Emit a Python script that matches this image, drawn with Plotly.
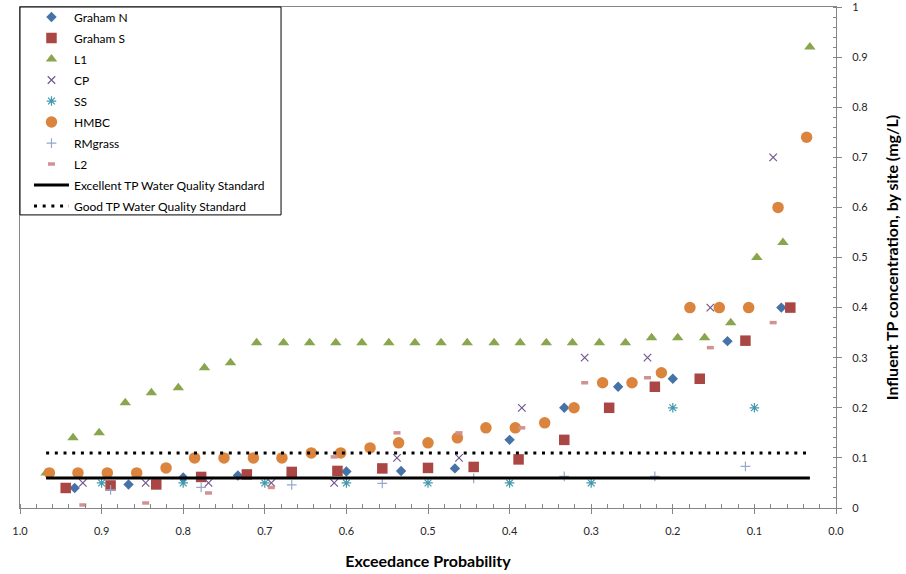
import plotly.graph_objects as go

FONT = "Lato, Carlito, Calibri, sans-serif"

# ---- data: exceedance probability (x) and TP concentration (y) ----
gn_p = [0.933, 0.867, 0.800, 0.733, 0.667, 0.600, 0.533, 0.467, 0.400, 0.333, 0.267, 0.200, 0.133, 0.067]
gn_v = [0.040, 0.047, 0.061, 0.065, 0.068, 0.073, 0.074, 0.079, 0.136, 0.200, 0.242, 0.258, 0.333, 0.400]

gs_p = [0.944, 0.889, 0.833, 0.778, 0.722, 0.667, 0.611, 0.556, 0.500, 0.444, 0.389, 0.333, 0.278, 0.222, 0.167, 0.111, 0.056]
gs_v = [0.040, 0.045, 0.047, 0.062, 0.067, 0.072, 0.074, 0.079, 0.080, 0.082, 0.097, 0.136, 0.200, 0.242, 0.258, 0.334, 0.400]

l1_p = [0.968, 0.935, 0.903, 0.871, 0.839, 0.806, 0.774, 0.742, 0.710, 0.677, 0.645, 0.613, 0.581, 0.548, 0.516,
        0.484, 0.452, 0.419, 0.387, 0.355, 0.323, 0.290, 0.258, 0.226, 0.194, 0.161, 0.129, 0.097, 0.065, 0.032]
l1_v = [0.07, 0.14, 0.15, 0.21, 0.23, 0.24, 0.28, 0.29, 0.33, 0.33, 0.33, 0.33, 0.33, 0.33, 0.33,
        0.33, 0.33, 0.33, 0.33, 0.33, 0.33, 0.33, 0.33, 0.34, 0.34, 0.34, 0.37, 0.50, 0.53, 0.92]

cp_p = [0.923, 0.846, 0.769, 0.692, 0.615, 0.538, 0.462, 0.385, 0.308, 0.231, 0.154, 0.077]
cp_v = [0.05, 0.05, 0.05, 0.05, 0.05, 0.10, 0.10, 0.20, 0.30, 0.30, 0.40, 0.70]

ss_p = [0.9, 0.8, 0.7, 0.6, 0.5, 0.4, 0.3, 0.2, 0.1]
ss_v = [0.05, 0.05, 0.05, 0.05, 0.05, 0.05, 0.05, 0.20, 0.20]

hm_p = [0.964, 0.929, 0.893, 0.857, 0.821, 0.786, 0.750, 0.714, 0.679, 0.643, 0.607, 0.571, 0.536, 0.500,
        0.464, 0.429, 0.393, 0.357, 0.321, 0.286, 0.250, 0.214, 0.179, 0.143, 0.107, 0.071, 0.036]
hm_v = [0.07, 0.07, 0.07, 0.07, 0.08, 0.10, 0.10, 0.10, 0.10, 0.11, 0.11, 0.12, 0.13, 0.13,
        0.14, 0.16, 0.16, 0.17, 0.20, 0.25, 0.25, 0.27, 0.40, 0.40, 0.40, 0.60, 0.74]

rm_p = [0.889, 0.778, 0.667, 0.556, 0.444, 0.333, 0.222, 0.111]
rm_v = [0.036, 0.041, 0.046, 0.049, 0.059, 0.063, 0.063, 0.083]

l2_p = [0.923, 0.846, 0.769, 0.692, 0.615, 0.538, 0.462, 0.385, 0.308, 0.231, 0.154, 0.077]
l2_v = [0.006, 0.010, 0.030, 0.041, 0.102, 0.150, 0.150, 0.160, 0.250, 0.260, 0.320, 0.370]

std_p = [0.968, 0.032]
excellent_v = [0.06, 0.06]
good_v = [0.11, 0.11]

x_ticks = [1.0, 0.9, 0.8, 0.7, 0.6, 0.5, 0.4, 0.3, 0.2, 0.1, 0.0]
y_ticks = [0, 0.1, 0.2, 0.3, 0.4, 0.5, 0.6, 0.7, 0.8, 0.9, 1]

fig = go.Figure()


def add_markers(name, xs, ys, symbol, color, size, line_only=False, lw=1.5):
    if line_only:
        marker = dict(symbol=symbol, size=size, color=color, line=dict(color=color, width=lw))
    else:
        marker = dict(symbol=symbol, size=size, color=color, line=dict(width=0))
    fig.add_trace(go.Scatter(x=xs, y=ys, mode="markers", name=name, legendgroup=name,
                             marker=marker))


add_markers("Graham N", gn_p, gn_v, "diamond", "#4572A7", 8)
add_markers("Graham S", gs_p, gs_v, "square", "#AA4643", 10.5)
add_markers("L1", l1_p, l1_v, "triangle-up", "#89A54E", 10)
add_markers("CP", cp_p, cp_v, "x-thin", "#71588F", 7.5, line_only=True, lw=1.2)
add_markers("SS", ss_p, ss_v, "asterisk", "#4198AF", 8, line_only=True, lw=1.2)
add_markers("HMBC", hm_p, hm_v, "circle", "#DB843D", 11.5)
add_markers("RMgrass", rm_p, rm_v, "cross-thin", "#93A9CF", 7, line_only=True, lw=1.2)
add_markers("L2", l2_p, l2_v, "line-ew", "#D19392", 5, line_only=True, lw=3.5)

fig.add_trace(go.Scatter(x=std_p, y=excellent_v, mode="lines", name="Excellent TP Water Quality Standard",
                         legendgroup="exc", line=dict(color="black", width=3)))
fig.add_trace(go.Scatter(x=std_p, y=good_v, mode="lines", name="Good TP Water Quality Standard",
                         legendgroup="good", line=dict(color="black", width=3, dash="3px,5.7px")))

AX = "#868686"
fig.update_layout(
    width=906, height=574,
    margin=dict(l=20, r=70, t=7, b=66, autoexpand=False),
    paper_bgcolor="white", plot_bgcolor="white",
    font=dict(family=FONT, size=12, color="black"),
    showlegend=True,
    legend=dict(x=0.011, y=0.9956, xanchor="left", yanchor="top", yref="container",
                bgcolor="rgba(0,0,0,0)", borderwidth=0,
                font=dict(family=FONT, size=12, color="black"),
                itemwidth=35, tracegroupgap=2, traceorder="grouped"),
    xaxis=dict(range=[1.0, 0.0], tickvals=x_ticks, tickformat=".1f",
               showgrid=False, zeroline=False, showline=True, linecolor=AX, linewidth=1, mirror=True,
               ticks="outside", ticklen=5, tickcolor=AX, ticklabelstandoff=8,
               minor=dict(dtick=0.02, tick0=0, ticks="inside", ticklen=4, tickcolor=AX),
               tickfont=dict(family=FONT, size=11, color="#262626"),
               title=dict(text="<b>Exceedance Probability</b>", font=dict(family=FONT, size=16, color="black"),
                          standoff=19)),
    yaxis=dict(range=[0, 1], tickvals=y_ticks, side="right", ticklabeloverflow="allow",
               showgrid=False, zeroline=False, showline=True, linecolor=AX, linewidth=1, mirror=True,
               ticks="outside", ticklen=5, tickcolor=AX, ticklabelstandoff=8,
               minor=dict(dtick=0.02, tick0=0, ticks="inside", ticklen=3, tickcolor=AX),
               tickfont=dict(family=FONT, size=11, color="#262626"),
               title=dict(text="<b>Influent TP concentration, by site (mg/L)</b>",
                          font=dict(family=FONT, size=16, color="black"), standoff=19)),
    shapes=[dict(type="rect", xref="paper", yref="paper", x0=0, x1=0.3199, y0=0.585, y1=1.0,
                 line=dict(color="black", width=1), fillcolor="rgba(0,0,0,0)", layer="above")],
)

fig.write_html("out.html")
